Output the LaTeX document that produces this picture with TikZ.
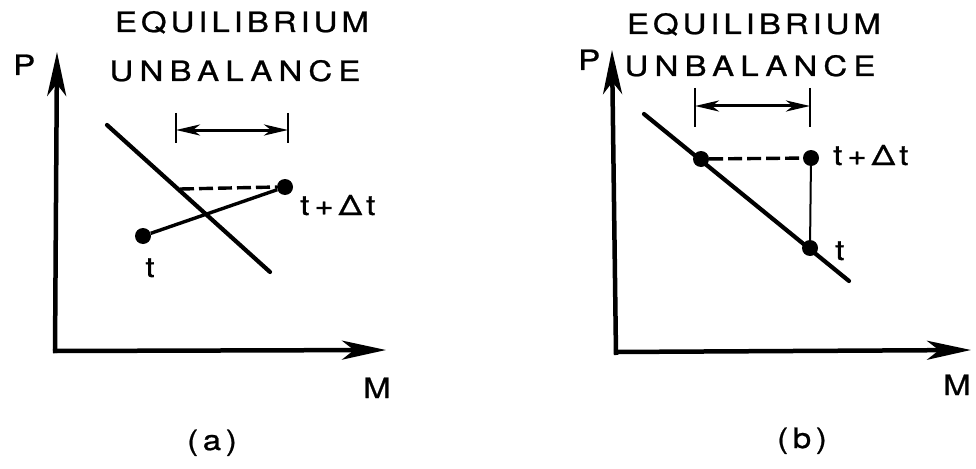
\documentclass[tikz,border=0pt]{standalone}
\usepackage{fontspec}
\newfontfamily\lblfont[LetterSpace=14,FakeStretch=1.18,FakeBold=0.8]{TeX Gyre Heros}
\newfontfamily\widefont[LetterSpace=22,FakeStretch=1.18,FakeBold=0.8]{TeX Gyre Heros}
\usetikzlibrary{arrows.meta}
\tikzset{
  lbl/.style={inner sep=0pt, font=\lblfont\fontsize{28}{28}\selectfont},
  widelbl/.style={inner sep=0pt, font=\widefont\fontsize{28}{28}\selectfont},
  axis/.style={line width=4.5pt, -{Stealth[length=44pt,width=19pt,inset=12pt]}},
  eqline/.style={line width=4.2pt, line cap=round},
  path/.style={line width=3.4pt},
  dashline/.style={line width=3.4pt, dash pattern=on 14pt off 5pt},
  tick/.style={line width=2pt},
  span/.style={line width=3pt, {Stealth[length=24pt,width=11pt,inset=7pt]}-{Stealth[length=24pt,width=11pt,inset=7pt]}},
  dot/.style={circle, fill=black, inner sep=0pt, minimum size=16pt},
}
\newcommand{\tdt}{t\kern5pt+\kern5ptΔ\kern4pt t}
\begin{document}
\begin{tikzpicture}[x=1pt,y=-1pt]
\useasboundingbox (0,0) rectangle (976,468);
% ---------------- panel (a) ----------------
\coordinate (oa) at (55,351);
\coordinate (pa) at (57,52);
\coordinate (ma) at (386,350);
\draw[axis] (55,353) -- (pa);
\draw[axis] (53,351) -- (ma);
\node[lbl, anchor=base west] (Pa) at (13,75) {P};
\node[lbl, anchor=base west] (Ma) at (363,398) {M};
\node[lbl, anchor=base] (eqa) at (242,32) {EQUILIBRIUM};
\node[widelbl, anchor=base] (una) at (235,81) {UNBALANCE};
% equilibrium line
\coordinate (la1) at (107,125);
\coordinate (la2) at (270,272);
\draw[eqline] (la1) -- (la2);
% bracket
\coordinate (ba1) at (176,113);
\coordinate (ba2) at (176,143);
\coordinate (ba3) at (288,113);
\coordinate (ba4) at (288,143);
\coordinate (bal) at (176,130);
\coordinate (bar) at (288,130);
\draw[tick] (ba1) -- (ba2);
\draw[tick] (ba3) -- (ba4);
\draw[span] (bal) -- (bar);
% points
\node[dot] (ta) at (143,236) {};
\node[dot] (tda) at (285,187) {};
\coordinate (ea) at (180,189);
\draw[path] (ta) -- (tda);
\draw[dashline] (ea) -- (tda.west);
\node[lbl, anchor=base] (tla) at (150,277) {t};
\node[lbl, anchor=base west] (tdla) at (300,215) {\tdt};
\node[lbl, anchor=base] (capa) at (212,450) {(\,a\,)};
% ---------------- panel (b) ----------------
\coordinate (ob) at (616,353);
\coordinate (pb) at (612,50);
\coordinate (mb) at (971,350);
\draw[axis] (616,355) -- (pb);
\draw[axis] (614,352) -- (mb);
\node[lbl, anchor=base west] (Pb) at (578,70) {P};
\node[lbl, anchor=base west] (Mb) at (943,395) {M};
\node[lbl, anchor=base] (eqb) at (754,34) {EQUILIBRIUM};
\node[widelbl, anchor=base] (unb) at (750,76) {UNBALANCE};
% equilibrium line
\coordinate (lb1) at (644,114);
\coordinate (lb2) at (849,281);
\draw[eqline] (lb1) -- (lb2);
% bracket
\coordinate (bb1) at (695,88);
\coordinate (bb2) at (695,127);
\coordinate (bb3) at (810,88);
\coordinate (bb4) at (810,127);
\coordinate (bbl) at (695,106);
\coordinate (bbr) at (810,106);
\draw[tick] (bb1) -- (bb2);
\draw[tick] (bb3) -- (bb4);
\draw[span] (bbl) -- (bbr);
% points
\node[dot] (eb) at (701,159) {};
\node[dot] (tdb) at (811,158) {};
\node[dot] (tb) at (810,248) {};
\draw[dashline] (eb) -- (tdb);
\draw[tick] (tdb) -- (tb);
\node[lbl, anchor=base west] (tdlb) at (833,165) {\tdt};
\node[lbl, anchor=base west] (tlb) at (835,260) {t};
\node[lbl, anchor=base] (capb) at (802,448) {(\,b\,)};
\end{tikzpicture}
\end{document}
